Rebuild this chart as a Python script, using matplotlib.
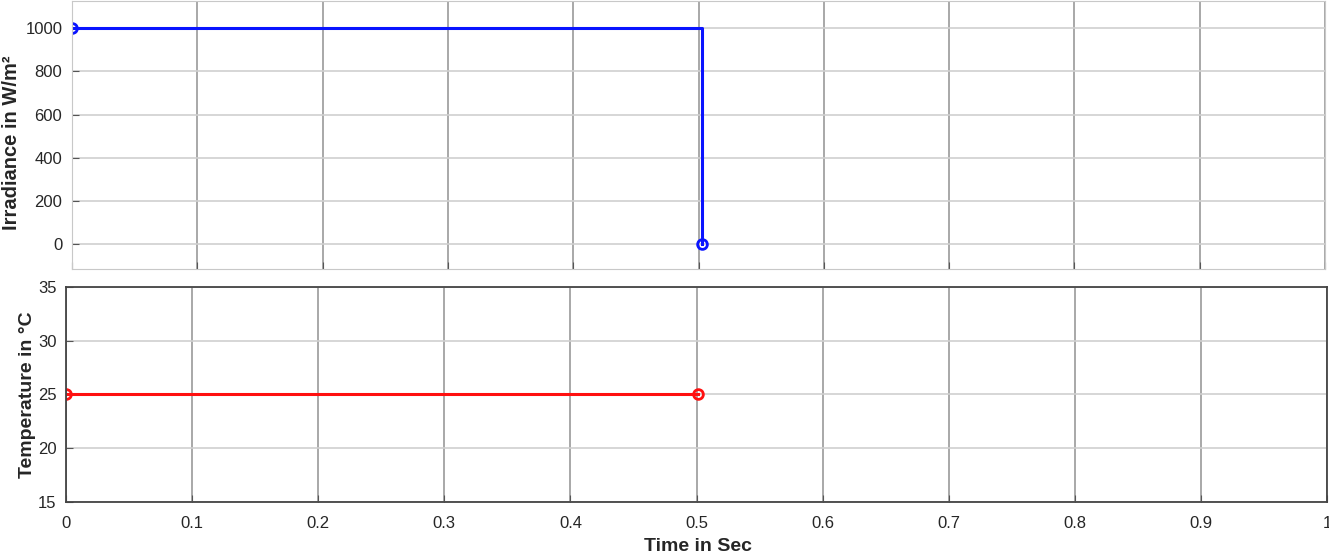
import matplotlib
matplotlib.use("Agg")
from matplotlib import pyplot as plt

plt.rcParams['font.family'] = ['Liberation Sans', 'DejaVu Sans']

# datos
t_irr = [0.0, 0.503, 0.503]
irr = [1000, 1000, 0]
t_temp = [0.0, 0.501]
temp = [25, 25]

xticks = [0, 0.1, 0.2, 0.3, 0.4, 0.5, 0.6, 0.7, 0.8, 0.9, 1]
xlabels = ["0", "0.1", "0.2", "0.3", "0.4", "0.5", "0.6", "0.7", "0.8", "0.9", "1"]
irr_ticks = [0, 200, 400, 600, 800, 1000]
temp_ticks = [15, 20, 25, 30, 35]

texto = '#262626'

fig = plt.figure(figsize=(13.29, 5.58), dpi=100)
ax1 = fig.add_axes([0.0542, 0.518, 0.9428, 0.480])
ax2 = fig.add_axes([0.0497, 0.1004, 0.9488, 0.3853])

# Irradiancia
ax1.plot(t_irr, irr, color='#0a14ff', lw=2.2)
ax1.plot([t_irr[0], t_irr[-1]], [irr[0], irr[-1]], 'o', mfc='none', mec='#0a14ff', mew=2, ms=7)
ax1.set_xlim(0, 1)
ax1.set_ylim(-116, 1126)
ax1.set_xticks(xticks)
ax1.set_xticklabels([])
ax1.set_yticks(irr_ticks)
ax1.set_ylabel("Irradiance in W/m²", fontsize=14.5, fontweight='bold', color=texto)
ax1.yaxis.set_label_coords(-0.041, 0.47)

# Temperatura
ax2.plot(t_temp, temp, color='#ff1010', lw=2.2)
ax2.plot(t_temp, temp, 'o', mfc='none', mec='#ff1010', mew=2, ms=7)
ax2.set_xlim(0, 1)
ax2.set_ylim(15, 35)
ax2.set_xticks(xticks)
ax2.set_xticklabels(xlabels)
ax2.set_yticks(temp_ticks)
ax2.set_ylabel("Temperature in °C", fontsize=14, fontweight='bold', color=texto)
ax2.yaxis.set_label_coords(-0.024, 0.5)
ax2.set_xlabel("Time in Sec", fontsize=14, fontweight='bold', color=texto)
ax2.xaxis.set_label_coords(0.501, -0.168)

for ax in (ax1, ax2):
    ax.xaxis.grid(True, color='#9a9a9a', lw=1.2)
    ax.yaxis.grid(True, color='#cfcfcf', lw=1.2)
    ax.set_axisbelow(True)
    ax.tick_params(direction='in', length=5, colors='#555555', labelcolor=texto, labelsize=12)
    ax.tick_params(axis='y', pad=7)
    ax.tick_params(axis='x', pad=10)

for s in ax1.spines.values():
    s.set_color('#c8c8c8')
for s in ax2.spines.values():
    s.set_color('#444444')
    s.set_linewidth(1.3)

plt.savefig("out.png", dpi=100)
